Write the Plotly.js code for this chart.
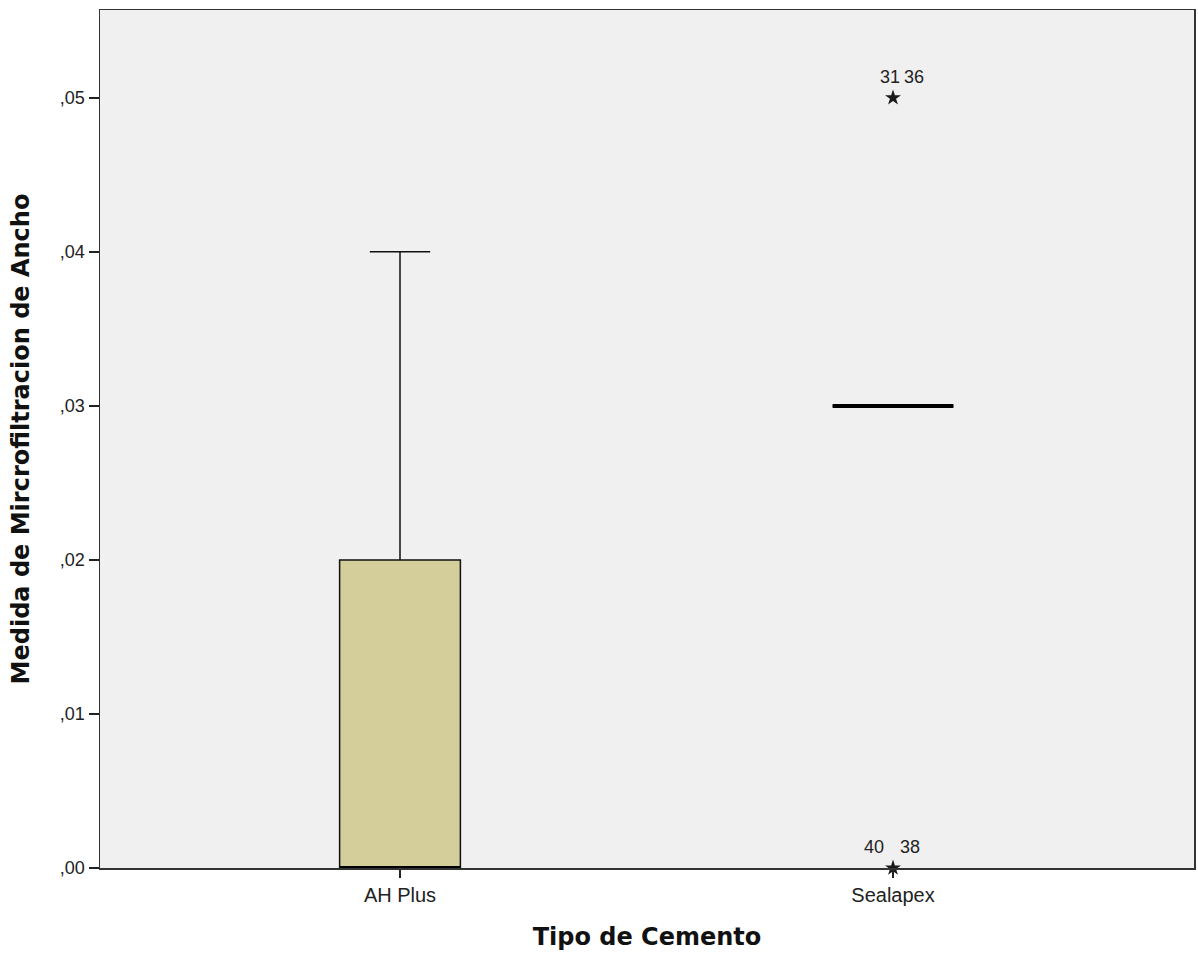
<!DOCTYPE html>
<html>
<head>
<meta charset="utf-8">
<script src="https://cdn.plot.ly/plotly-3.0.1.min.js"></script>
<style>body{margin:0;padding:0;background:#fff;}#chart{width:1198px;height:956px;}</style>
</head>
<body>
<div id="chart"></div>
<script>
// ---- data ----
const categories = ["AH Plus", "Sealapex"];
const q1 = [0.00, 0.03];
const medians = [0.00, 0.03];
const q3 = [0.02, 0.03];
const lowerWhisker = [0.00, 0.03];
const upperWhisker = [0.04, 0.03];
const extremeCategory = [1, 1];
const extremeValues = [0.05, 0.00];
const extremeLabelsA = ["31", "40"];
const extremeLabelsB = ["36", "38"];
const yTickVals = [0, 0.01, 0.02, 0.03, 0.04, 0.05];
const yTickText = [",00", ",01", ",02", ",03", ",04", ",05"];

// ---- style ----
const W = 1198, H = 956;
const margin = { l: 100, r: 4, t: 10, b: 88 };
const xRange = [-0.6085, 1.6105];
const boxWidth = 0.245;
const fillColors = ["#d3ce9a", "#d3ce9a"];
const pxPerUnit = (W - margin.l - margin.r) / (xRange[1] - xRange[0]);
const sans = "Liberation Sans, Arial, sans-serif";
const bold = "DejaVu Sans, Verdana, sans-serif";

const traces = [];
categories.forEach((c, i) => {
  traces.push({
    type: "box",
    x: [i],
    q1: [q1[i]], median: [medians[i]], q3: [q3[i]],
    lowerfence: [lowerWhisker[i]], upperfence: [upperWhisker[i]],
    width: boxWidth, whiskerwidth: 0.5,
    fillcolor: fillColors[i],
    line: { color: "#111", width: 1.5 },
    boxpoints: false, hoverinfo: "skip", showlegend: false
  });
});
// thick median lines (line markers so they are not clipped at the axis);
// plotly's line-ew symbol is 1.4 * size long
traces.push({
  type: "scatter", mode: "markers",
  x: categories.map((c, i) => i), y: medians,
  marker: { symbol: "line-ew", size: boxWidth * pxPerUnit / 1.4, color: "#000", line: { color: "#000", width: 4 } },
  hoverinfo: "skip", showlegend: false, cliponaxis: false
});
traces.push({
  type: "scatter", mode: "markers",
  x: extremeCategory, y: extremeValues,
  marker: { symbol: "star", size: 12, color: "#1a1a1a", line: { width: 0 } },
  hoverinfo: "skip", showlegend: false, cliponaxis: false
});

const annotations = [];
extremeValues.forEach((v, k) => {
  annotations.push({ x: extremeCategory[k], y: v, xref: "x", yref: "y", text: extremeLabelsA[k],
    showarrow: false, xshift: (k === 1 ? -19 : -3), yshift: 21, font: { size: 18, color: "#222", family: sans } });
  annotations.push({ x: extremeCategory[k], y: v, xref: "x", yref: "y", text: extremeLabelsB[k],
    showarrow: false, xshift: (k === 1 ? 17 : 21), yshift: 21, font: { size: 18, color: "#222", family: sans } });
});

const layout = {
  width: W, height: H,
  margin: margin,
  paper_bgcolor: "#ffffff",
  plot_bgcolor: "#f0f0f0",
  font: { family: sans, color: "#222", size: 18 },
  showlegend: false,
  xaxis: {
    type: "linear",
    range: xRange,
    tickvals: [0, 1], ticktext: categories,
    ticks: "outside", ticklen: 8, tickcolor: "#222", tickwidth: 1.5,
    showline: true, linecolor: "#333", linewidth: 1.5, mirror: true,
    showgrid: false, zeroline: false,
    tickfont: { size: 20, color: "#222", family: sans },
    title: { text: "<b>Tipo de Cemento</b>", font: { size: 24, color: "#111", family: bold }, standoff: 23 }
  },
  yaxis: {
    range: [0, 0.0557],
    tickvals: yTickVals, ticktext: yTickText,
    ticks: "outside", ticklen: 10, tickcolor: "#222", tickwidth: 1.5,
    showline: true, linecolor: "#333", linewidth: 1.5, mirror: true,
    showgrid: false, zeroline: false,
    tickfont: { size: 18, color: "#222", family: sans },
    title: { text: "<b>Medida de Mircrofiltracion de Ancho</b>", font: { size: 24, color: "#111", family: bold }, standoff: 23 }
  },
  annotations: annotations
};

Plotly.newPlot("chart", traces, layout, { displayModeBar: false, staticPlot: true });
</script>
</body>
</html>
